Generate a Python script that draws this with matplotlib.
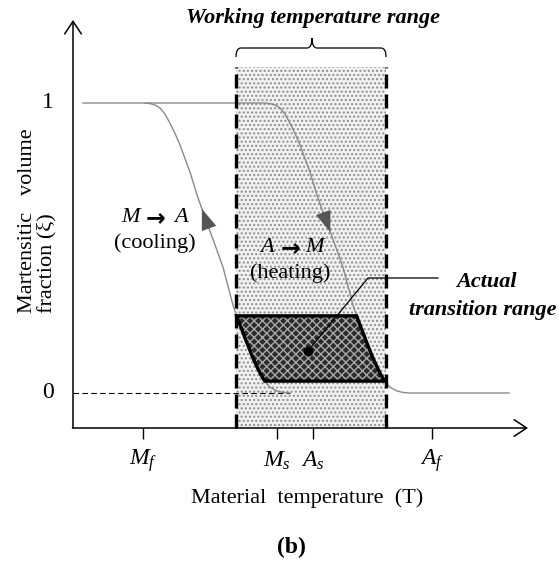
import numpy as np
import matplotlib
matplotlib.use("Agg")
import matplotlib.pyplot as plt
from matplotlib.patches import Rectangle, Polygon, FancyArrowPatch, PathPatch
from matplotlib.path import Path

plt.rcParams['font.family'] = ['Liberation Serif', 'DejaVu Serif']
plt.rcParams['mathtext.fontset'] = 'custom'
plt.rcParams['mathtext.rm'] = 'Liberation Serif'
plt.rcParams['mathtext.it'] = 'Liberation Serif:italic'
plt.rcParams['hatch.linewidth'] = 1.0

# --- data (temperature in arbitrary units, xi = martensitic fraction) ---
cool_T = [83, 145, 150, 155, 160, 165, 170, 175, 180, 190, 197, 203, 213, 223, 233, 237,
          247, 253, 257, 261, 265, 270, 277, 283, 290]
cool_xi = [1.0, 1.0, 0.998, 0.993, 0.983, 0.962, 0.930, 0.895, 0.855, 0.762, 0.683, 0.624,
           0.53, 0.434, 0.303, 0.262, 0.172, 0.120, 0.090, 0.062, 0.040, 0.020, 0.007, 0.002, 0.0]
heat_T = [145, 265, 270, 275, 280, 285, 290, 295, 300, 310, 317, 323, 333, 343, 353, 357,
          367, 373, 377, 381, 385, 390, 397, 403, 410, 509]
heat_xi = [1.0, 1.0, 0.998, 0.993, 0.983, 0.962, 0.930, 0.895, 0.855, 0.762, 0.683, 0.624,
           0.53, 0.434, 0.303, 0.262, 0.172, 0.120, 0.090, 0.062, 0.040, 0.020, 0.007, 0.002,
           0.0, 0.0]

tick_T = [143, 277, 313, 432]
tick_labels = [r"$M_f$", r"$M_s$", r"$A_s$", r"$A_f$"]
level_xi = [0, 1]
level_labels = ["0", "1"]

working_range = [236, 386]
band_xi = [0.041, 0.266]
dot_xi_T = (308, 0.145)

# --- layout helpers (figure is laid out in pixels, y converted to xi) ---
W, H = 559, 566
Y0_PX, PX_PER_XI = 393, 290.0


def yv(px):
    return (Y0_PX - px) / PX_PER_XI


AXIS_X = 73
AXIS_Y = yv(428)

fig = plt.figure(figsize=(W / 100, H / 100), dpi=100)
ax = fig.add_axes([0, 0, 1, 1])
ax.set_xlim(0, W)
ax.set_ylim(yv(H), yv(0))
ax.axis('off')

# working temperature range (dotted shade + thick dashed borders)
top = yv(67)
ax.add_patch(Rectangle((working_range[0], AXIS_Y), working_range[1] - working_range[0],
                       top - AXIS_Y, facecolor='#f1f1f1', edgecolor='#8f8f8f',
                       hatch='....', lw=0, zorder=1))
ax.vlines(working_range, AXIS_Y, top, colors='black', lw=2.4,
          linestyles=[(0, (4.2, 1.8))], zorder=5)

# zero level dashed guide
ax.plot([AXIS_X, cool_T[-1]], [0, 0], color='black', lw=0.8, ls=(0, (5, 3)), zorder=2)

# transformation curves
ax.plot(cool_T, cool_xi, color='#8a8a8a', lw=1.0, zorder=3)
ax.plot(heat_T, heat_xi, color='#8a8a8a', lw=1.0, zorder=3)


def t_at(T, xi, level):
    return float(np.interp(level, xi[::-1], T[::-1]))


# actual transition range: region between the curves inside the band
lo, hi = band_xi
cT, cX = np.array(cool_T), np.array(cool_xi)
hT, hX = np.array(heat_T), np.array(heat_xi)
left = [(t_at(cT, cX, hi), hi)] + [(t, x) for t, x in zip(cT, cX) if lo < x < hi] + [(t_at(cT, cX, lo), lo)]
right = [(t_at(hT, hX, lo), lo)] + [(t, x) for t, x in zip(hT[::-1], hX[::-1]) if lo < x < hi] + [(t_at(hT, hX, hi), hi)]
verts = left + right
ax.add_patch(Polygon(verts, closed=True, facecolor='#2c2c2c', edgecolor='#a8a8a8',
                     hatch='xxxx', lw=0, zorder=4))
ax.add_patch(Polygon(verts, closed=True, fill=False, edgecolor='black', lw=2.4,
                     joinstyle='miter', zorder=6))

# leader line to the label
ax.plot([dot_xi_T[0], 368, 438], [dot_xi_T[1], yv(278), yv(278)], color='black', lw=0.9, zorder=7)
ax.plot(*dot_xi_T, 'o', color='black', ms=6, zorder=8)

# direction arrowheads on the curves
for T, X, a, b in [(cT, cX, 0.545, 0.635), (hT, hX, 0.645, 0.555)]:
    ax.add_patch(FancyArrowPatch((t_at(T, X, a), a), (t_at(T, X, b), b),
                                 arrowstyle='-|>,head_length=1.5,head_width=0.55',
                                 mutation_scale=10, color='#555555', lw=0,
                                 shrinkA=0, shrinkB=0, zorder=6))

# axes with open arrowheads
arrow_kw = dict(arrowstyle='->,head_length=0.45,head_width=0.3', lw=1.1, color='black',
                shrinkA=0, shrinkB=0, mutation_scale=20)
ax.annotate('', xy=(AXIS_X, yv(20)), xytext=(AXIS_X, AXIS_Y), arrowprops=arrow_kw)
ax.annotate('', xy=(528, AXIS_Y), xytext=(AXIS_X - 0.5, AXIS_Y), arrowprops=arrow_kw)

# ticks and labels
ax.vlines(tick_T, yv(439), AXIS_Y, colors='black', lw=1.0)
for t, lab in zip(tick_T, tick_labels):
    ax.text(t, yv(461), lab, ha='center', va='center', fontsize=17)
for x, lab in zip(level_xi, level_labels):
    ax.text(48, x, lab, ha='center', va='center', fontsize=17)

# brace over the working range
bl, br = working_range
mid = (bl + br) / 2 + 1
yb, yt, ym = yv(48), yv(57), yv(38)
codes = [Path.MOVETO, Path.CURVE3, Path.CURVE3, Path.LINETO, Path.CURVE3, Path.CURVE3,
         Path.CURVE3, Path.CURVE3, Path.LINETO, Path.CURVE3, Path.CURVE3]
pts = [(bl, yt), (bl, yb), (bl + 5, yb), (mid - 5, yb), (mid, yb), (mid, ym),
       (mid, yb), (mid + 5, yb), (br - 5, yb), (br, yb), (br, yt)]
ax.add_patch(PathPatch(Path(pts, codes), fill=False, lw=0.9, edgecolor='black'))

# texts
ax.text(313, yv(18), "Working temperature range", ha='center', va='center',
        fontsize=16, fontweight='bold', fontstyle='italic')
ax.text(486, yv(282), "Actual", ha='center', va='center',
        fontsize=16, fontweight='bold', fontstyle='italic')
ax.text(483, yv(310), "transition range", ha='center', va='center',
        fontsize=16, fontweight='bold', fontstyle='italic')

for (xm, xa, xb), (l1, l2), y1, cx, word in [((131, 156, 181), ("M", "A"), 218, 155, "(cooling)"),
                                            ((267, 291, 315), ("A", "M"), 248, 290, "(heating)")]:
    ax.text(xm, yv(y1), l1, ha='center', va='center', fontsize=16, fontstyle='italic', zorder=9)
    ax.text(xa, yv(y1), "\u2192", ha='center', va='center', fontsize=17,
            family='DejaVu Sans', fontweight='bold', zorder=9)
    ax.text(xb, yv(y1), l2, ha='center', va='center', fontsize=16, fontstyle='italic', zorder=9)
    ax.text(cx, yv(y1 + 25), word, ha='center', va='center', fontsize=16, zorder=9)

ax.text(37, yv(313), "Martensitic   volume\nfraction (\u03be)", rotation=90, ha='center',
        va='bottom', multialignment='left', fontsize=16, linespacing=1.0)
ax.text(307, yv(498), "Material  temperature  (T)", ha='center', va='center', fontsize=16)
ax.text(291, yv(547), "(b)", ha='center', va='center', fontsize=17, fontweight='bold')

fig.savefig("out.png", dpi=100, facecolor='white')
